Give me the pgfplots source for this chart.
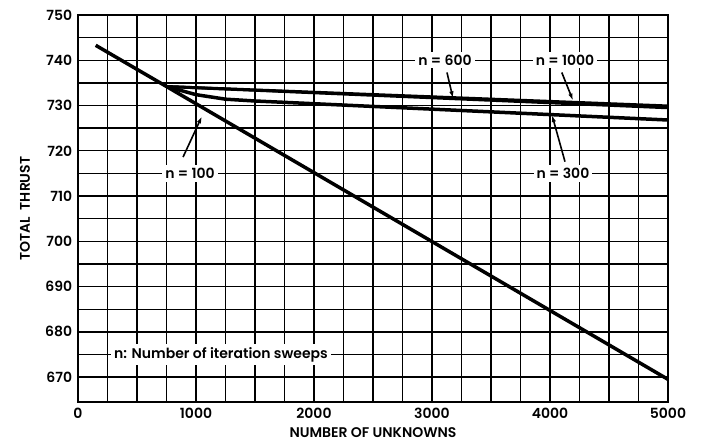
\documentclass[border=0pt]{standalone}
\usepackage{pgfplots}
\pgfplotsset{compat=1.18}
\usepackage{fontspec}
\setmainfont{Poppins SemiBold}
\usetikzlibrary{arrows.meta}
\begin{document}
\fontsize{14bp}{16bp}\selectfont
\begin{tikzpicture}
\begin{axis}[
  scale only axis, width=590bp, height=387bp,
  xmin=0, xmax=5000, ymin=664.5, ymax=750,
  xtick={0,1000,...,5000}, ytick={670,680,...,750},
  minor x tick num=3, minor y tick num=1,
  grid=both,
  major grid style={black, line width=1.4bp},
  minor grid style={black, line width=1.4bp},
  axis line style={line width=2.6bp},
  tick style={draw=none},
  /pgf/number format/assume math mode=true,
  /pgf/number format/1000 sep={},
  tick label style={font=\fontsize{14bp}{16bp}\selectfont},
  xticklabel style={yshift=-1bp},
  yticklabel style={xshift=-1bp},
  xlabel={NUMBER OF UNKNOWNS}, ylabel={TOTAL\ \ THRUST},
  every axis x label/.style={at={(axis description cs:0.5,-0.078)}, anchor=center, font=\fontsize{14bp}{16bp}\selectfont},
  every axis y label/.style={at={(axis description cs:-0.09,0.5)}, rotate=90, anchor=center, font=\fontsize{14bp}{16bp}\selectfont},
  clip=false,
]
\addplot[black, line width=3.5bp] coordinates {(150,743.3) (750,734.2) (5000,669.5)};
\addplot[black, line width=3bp] coordinates {(750,734.2) (5000,729.9)};
\addplot[black, line width=3bp] coordinates {(750,734.2) (5000,729.5)};
\addplot[black, line width=3.5bp] coordinates {(750,734.2) (1000,732.4) (1250,731.4) (1500,731.0) (2000,730.4) (3000,729.2) (4000,728.0) (5000,726.8)};
\begin{scope}[every node/.style={fill=white, inner sep=3bp, font=\fontsize{14bp}{16bp}\selectfont}]
\node at (axis cs:949,715) {n = 100};
\node at (axis cs:3110,740) {n = 600};
\node at (axis cs:4127,740) {n = 1000};
\node at (axis cs:4110,715) {n = 300};
\node at (axis cs:1212,675) {n: Number of iteration sweeps};
\end{scope}
\begin{scope}[line width=1.6bp, -{Latex[length=7bp,width=4.5bp]}]
\draw (axis cs:890,718.6) -- (axis cs:1050,727.6);
\draw (axis cs:3127,737.3) -- (axis cs:3178,731.6);
\draw (axis cs:4100,737.3) -- (axis cs:4195,731.1);
\draw (axis cs:4127,717.6) -- (axis cs:4017,727.9);
\end{scope}
\end{axis}
\path ([shift={(-78bp,-42bp)}]current axis.south west) rectangle ([shift={(33bp,15bp)}]current axis.north east);
\end{tikzpicture}
\end{document}
